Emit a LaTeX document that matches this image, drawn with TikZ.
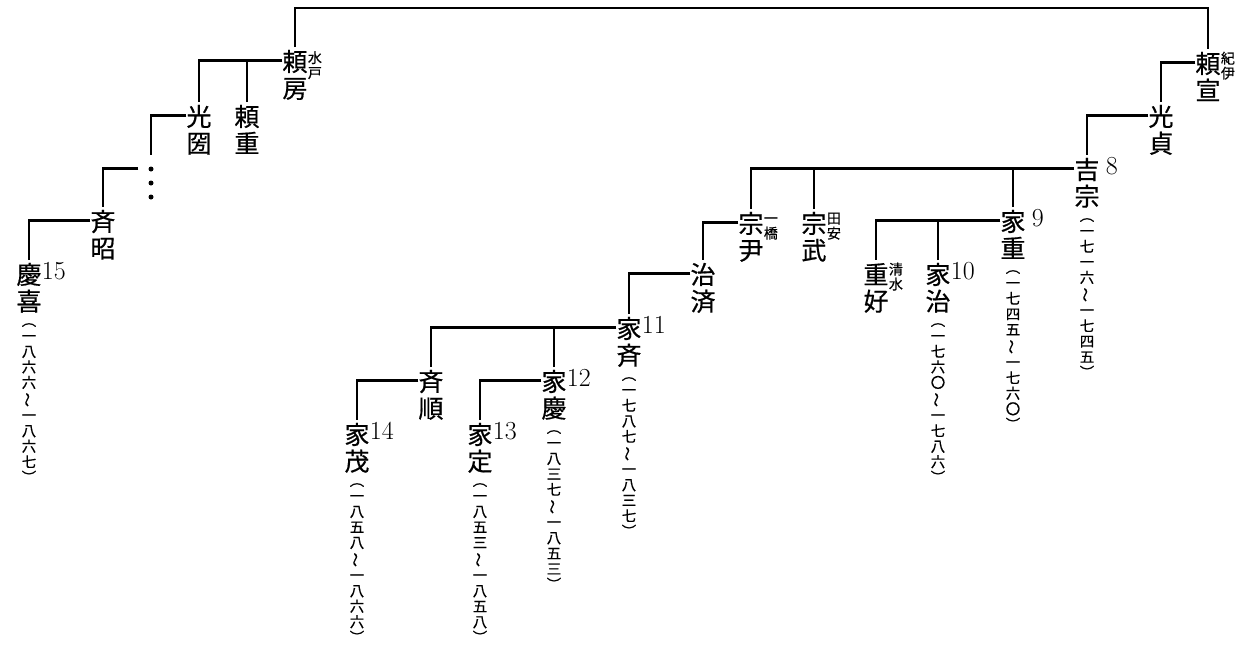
\documentclass[tikz,border=0pt]{standalone}
\usepackage{fontspec}
\usepackage{graphicx}
\newfontfamily\cjk[FakeBold=0.6]{Noto Sans CJK JP}
\newfontfamily\cjkn[FakeBold=0.4]{Noto Sans CJK JP}
\usetikzlibrary{positioning}

% vertical (tate-gaki) stacking of characters
\makeatletter
\newcommand\tate[1]{\vbox{\offinterlineskip\tate@#1\@nil}}
\def\tate@#1{\ifx\@nil#1\else\hbox to 1em{\hss\vrule height 0.95em depth 0.12em width 0pt\relax#1\hss}\expandafter\tate@\fi}
\makeatother
\newcommand\nami{\rotatebox[origin=c]{90}{〜}}

\begin{document}
\begin{tikzpicture}[
    x=1pt, y=-1pt,
    mei/.style={font=\cjk\fontsize{25}{25}\selectfont, inner sep=0pt, anchor=north},
    nengo/.style={font=\cjkn\fontsize{14.5}{14.5}\selectfont, inner sep=0pt},
    bun/.style={font=\cjk\fontsize{14}{14}\selectfont, inner sep=0pt, anchor=north west, yshift=-1pt},
    dai/.style={font=\rmfamily\fontsize{26}{26}\selectfont, inner sep=0pt, anchor=north west, yshift=-2pt},
    keizu/.style={line width=2.2pt}
]
    \useasboundingbox (0,0) rectangle (1254,645);

    % Mito
    \node[mei] (yorifusa) at (295,47) {\tate{頼房}};
    \node[bun, yshift=-1.5pt] (yorifusa-b) at (yorifusa.north east) {\tate{水戸}};
    \node[mei] (mitsukuni) at (199,102) {\tate{光圀}};
    \node[mei] (yorishige) at (247,102) {\tate{頼重}};
    \node[mei, minimum width=25pt, minimum height=46pt] (ten) at (151,155) {};
    \foreach \dy in {14,28,42}
        \fill ([yshift=-\dy pt]ten.north) circle (2.5pt);
    \node[mei] (nariaki) at (103,207) {\tate{斉昭}};
    \node[mei] (yoshinobu) at (29,260) {\tate{慶喜}};
    \node[dai] (yoshinobu-n) at (yoshinobu.north east) {15};
    \node[nengo, below=-2pt of yoshinobu] (yoshinobu-y) {\tate{︵一八六六\nami 一八六七︶}};

    % Kii
    \node[mei] (yorinobu) at (1208,49) {\tate{頼宣}};
    \node[bun] (yorinobu-b) at (yorinobu.north east) {\tate{紀伊}};
    \node[mei] (mitsusada) at (1161,102) {\tate{光貞}};
    \node[mei] (yoshimune) at (1087,155) {\tate{吉宗}};
    \node[dai, xshift=6pt] (yoshimune-n) at (yoshimune.north east) {8};
    \node[nengo, below=-2pt of yoshimune] (yoshimune-y) {\tate{︵一七一六\nami 一七四五︶}};

    % children of Yoshimune
    \node[mei] (munetada) at (751,209) {\tate{宗尹}};
    \node[bun] (munetada-b) at (munetada.north east) {\tate{一橋}};
    \node[mei] (munetake) at (814,209) {\tate{宗武}};
    \node[bun] (munetake-b) at (munetake.north east) {\tate{田安}};
    \node[mei] (ieshige) at (1013,207) {\tate{家重}};
    \node[dai, xshift=6pt] (ieshige-n) at (ieshige.north east) {9};
    \node[nengo, below=-2pt of ieshige] (ieshige-y) {\tate{︵一七四五\nami 一七六〇︶}};

    \node[mei] (shigeyoshi) at (876,260) {\tate{重好}};
    \node[bun] (shigeyoshi-b) at (shigeyoshi.north east) {\tate{清水}};
    \node[mei] (ieharu) at (938,260) {\tate{家治}};
    \node[dai] (ieharu-n) at (ieharu.north east) {10};
    \node[nengo, below=-2pt of ieharu] (ieharu-y) {\tate{︵一七六〇\nami 一七八六︶}};

    % Hitotsubashi line
    \node[mei] (harusada) at (703,260) {\tate{治済}};
    \node[mei] (ienari) at (629,314) {\tate{家斉}};
    \node[dai] (ienari-n) at (ienari.north east) {11};
    \node[nengo, below=-2pt of ienari] (ienari-y) {\tate{︵一七八七\nami 一八三七︶}};

    \node[mei] (narimasa) at (431,367) {\tate{斉順}};
    \node[mei] (ieyoshi) at (554,367) {\tate{家慶}};
    \node[dai] (ieyoshi-n) at (ieyoshi.north east) {12};
    \node[nengo, below=-2pt of ieyoshi] (ieyoshi-y) {\tate{︵一八三七\nami 一八五三︶}};

    \node[mei] (iemochi) at (357,420) {\tate{家茂}};
    \node[dai] (iemochi-n) at (iemochi.north east) {14};
    \node[nengo, below=-2pt of iemochi] (iemochi-y) {\tate{︵一八五八\nami 一八六六︶}};
    \node[mei] (iesada) at (480,420) {\tate{家定}};
    \node[dai] (iesada-n) at (iesada.north east) {13};
    \node[nengo, below=-2pt of iesada] (iesada-y) {\tate{︵一八五三\nami 一八五八︶}};

    % hook points (left of the first character)
    \foreach \p in {yorifusa, mitsukuni, ten, nariaki, yorinobu, mitsusada, yoshimune,
                    munetada, ieshige, harusada, ienari, narimasa, ieyoshi}
        \coordinate (\p-h) at ([yshift=-13.5pt]\p.north west);
    \coordinate (soke) at (750,8);

    % lines
    \draw[keizu] (yorifusa.north) |- (soke) -| (yorinobu.north);
    \draw[keizu] (yorifusa-h) -| (mitsukuni.north);
    \draw[keizu] (yorishige.north) -- (yorishige.north |- yorifusa-h);
    \draw[keizu] (mitsukuni-h) -| (ten.north);
    \draw[keizu] (ten-h) -| (nariaki.north);
    \draw[keizu] (nariaki-h) -| (yoshinobu.north);

    \draw[keizu] (yorinobu-h) -| (mitsusada.north);
    \draw[keizu] (mitsusada-h) -| (yoshimune.north);
    \draw[keizu] (yoshimune-h) -| (munetada.north);
    \draw[keizu] (munetake.north) -- (munetake.north |- yoshimune-h);
    \draw[keizu] (ieshige.north) -- (ieshige.north |- yoshimune-h);

    \draw[keizu] (ieshige-h) -| (shigeyoshi.north);
    \draw[keizu] (ieharu.north) -- (ieharu.north |- ieshige-h);

    \draw[keizu] (munetada-h) -| (harusada.north);
    \draw[keizu] (harusada-h) -| (ienari.north);
    \draw[keizu] (ienari-h) -| (narimasa.north);
    \draw[keizu] (ieyoshi.north) -- (ieyoshi.north |- ienari-h);
    \draw[keizu] (narimasa-h) -| (iemochi.north);
    \draw[keizu] (ieyoshi-h) -| (iesada.north);
\end{tikzpicture}
\end{document}
